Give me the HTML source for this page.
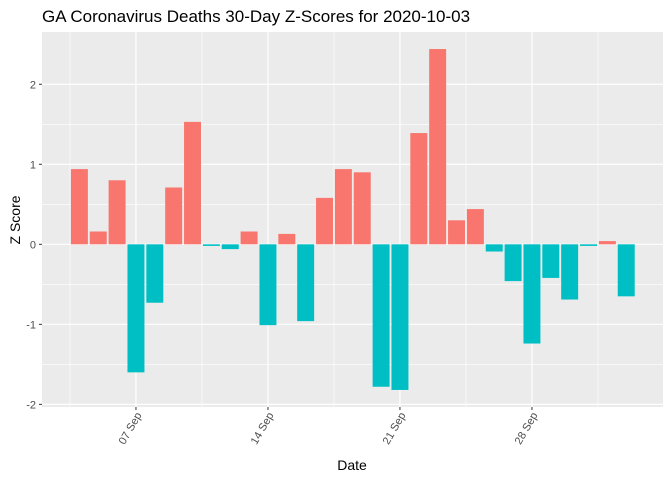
<!DOCTYPE html>
<html><head><meta charset="utf-8"><style>
body{margin:0;background:#fff;}
svg{display:block;font-family:"Liberation Sans",Arial,sans-serif;}
</style></head><body>
<svg id="chart" width="672" height="480">
<text x="42" y="22" font-size="17" fill="#000">GA Coronavirus Deaths 30-Day Z-Scores for 2020-10-03</text>
<rect x="42" y="32" width="621" height="375" fill="#EBEBEB"/>
<g id="grid"></g><g id="bars"></g><g id="axes"></g>
<text x="352" y="470" font-size="14" text-anchor="middle">Date</text>
<text transform="translate(20,220) rotate(-90)" font-size="14" text-anchor="middle">Z Score</text>
</svg>
<script>
const days = Array.from({length:30},(_,i)=>i); // day offset from Sep 4
const values = [0.94,0.16,0.80,-1.60,-0.73,0.71,1.53,-0.02,-0.06,0.16,-1.01,0.13,-0.96,0.58,0.94,0.90,-1.78,-1.82,1.39,2.44,0.30,0.44,-0.09,-0.46,-1.24,-0.42,-0.69,-0.02,0.04,-0.65];
const yTicks = [-2,-1,0,1,2];
const xTickDays = [3,10,17,24];
const xTickLabels = ["07 Sep","14 Sep","21 Sep","28 Sep"];
const NS="http://www.w3.org/2000/svg";
const L=42,R=663,T=32,B=407;
const ymin=-2.033,ymax=2.653;
const y=v=>B-(v-ymin)/(ymax-ymin)*(B-T);
const xmin=-1.983, xmax=30.95;
const x=d=>L+(d-xmin)/(xmax-xmin)*(R-L);
const step=x(1)-x(0);
function mk(tag,attrs,parent){const e=document.createElementNS(NS,tag);for(const k in attrs)e.setAttribute(k,attrs[k]);parent.appendChild(e);return e;}
const grid=document.getElementById('grid'),bars=document.getElementById('bars'),axes=document.getElementById('axes');
for(let i=0;i<yTicks.length;i++){
  const v=yTicks[i];
  if(i<yTicks.length-1){const g=mk('line',{x1:L,x2:R,y1:y(v+0.5),y2:y(v+0.5),stroke:'#fff','stroke-width':0.6},grid);
  
  }
  const gl=mk('line',{x1:L,x2:R,y1:y(v),y2:y(v),stroke:'#fff','stroke-width':1.2},grid);
  
  
  const t=mk('text',{x:L-6,y:y(v)+4,'font-size':11,'text-anchor':'end',fill:'#4D4D4D'},axes);t.textContent=v;
  
  
  mk('line',{x1:L-3,x2:L,y1:y(v),y2:y(v),stroke:'#333'},axes);
}
[3-3.5,3+3.5,10+3.5,17+3.5,24+3.5].forEach(d=>{
  if(x(d)>=L&&x(d)<=R){const g=mk('line',{x1:x(d),x2:x(d),y1:T,y2:B,stroke:'#fff','stroke-width':0.6},grid);
  
  }
});
xTickDays.forEach((d,i)=>{
  const g=mk('line',{x1:x(d),x2:x(d),y1:T,y2:B,stroke:'#fff','stroke-width':1.2},grid);
  
  
  mk('line',{x1:x(d),x2:x(d),y1:B,y2:B+3,stroke:'#333'},axes);
  const t=mk('text',{transform:`translate(${x(d)+6},${B+8}) rotate(-60)`,'font-size':11,'text-anchor':'end',fill:'#4D4D4D'},axes);
  t.textContent=xTickLabels[i];
  
  
});
days.forEach((d,i)=>{
  const v=values[i];const w=step*0.9;
  const r=mk('rect',{x:x(d)-w/2,y:Math.min(y(v),y(0)),width:w,height:Math.abs(y(v)-y(0)),fill:v>=0?'#F8766D':'#00BFC4'},bars);
  
  
});
</script>
</body></html>
